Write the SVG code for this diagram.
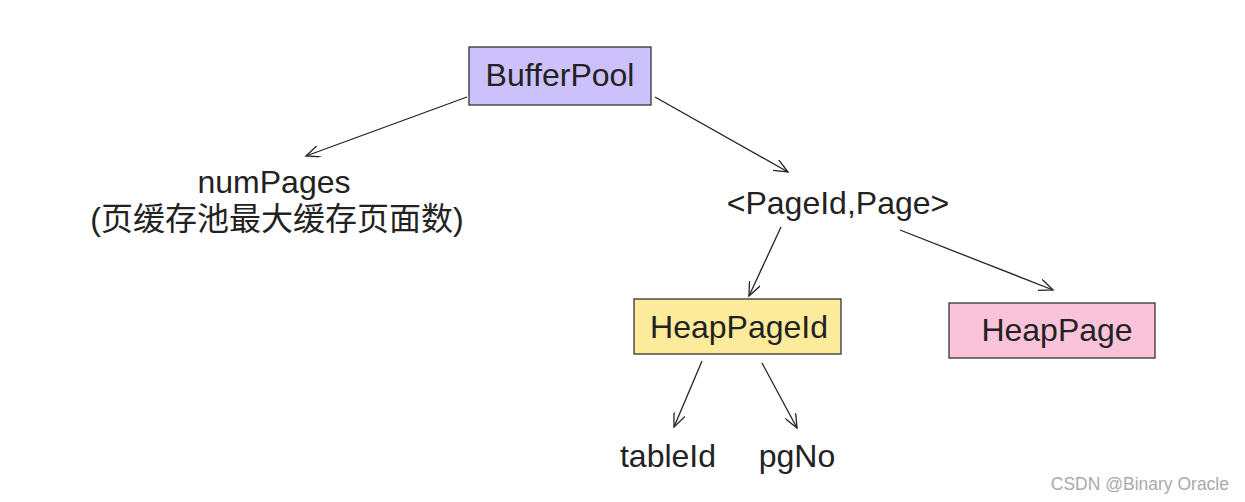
<svg xmlns="http://www.w3.org/2000/svg" width="1245" height="502" viewBox="0 0 1245 502">
<style>
.t{font-family:"Liberation Sans","Noto Sans CJK SC",Arial,sans-serif;font-size:32px;fill:#222;text-anchor:middle}
.box{stroke:#333;stroke-width:1.3}
.c line{stroke:#222;stroke-width:1.3;marker-end:url(#ah)}
</style>
<defs>
<marker id="ah" markerWidth="16" markerHeight="12" refX="14" refY="6" orient="auto" markerUnits="userSpaceOnUse">
<path d="M0,0 L14,6 L0,12" fill="none" stroke="#222" stroke-width="1.3"/>
</marker>
</defs>
<rect width="1245" height="502" fill="#fff"/>
<g id="bufferpool"><rect class="box" x="469" y="47" width="182" height="58" fill="#cdc1fb"/><text class="t" x="560" y="86">BufferPool</text></g>
<g id="numpages"><text class="t" x="274" y="193">numPages</text><text class="t" x="277" y="230">(页缓存池最大缓存页面数)</text></g>
<g id="pagemap"><text class="t" x="838" y="214">&lt;PageId,Page&gt;</text></g>
<g id="heappageid"><rect class="box" x="634" y="299" width="207" height="55" fill="#fdeb9c"/><text class="t" x="739" y="338">HeapPageId</text></g>
<g id="heappage"><rect class="box" x="949" y="303" width="206" height="55" fill="#fbc3d9"/><text class="t" x="1057" y="341">HeapPage</text></g>
<g id="tableid"><text class="t" x="668" y="467">tableId</text></g>
<g id="pgno"><text class="t" x="797" y="467">pgNo</text></g>
<g class="c" id="connectors">
<line x1="467" y1="97" x2="306" y2="156"/>
<line x1="655" y1="97" x2="788" y2="172"/>
<line x1="781" y1="227" x2="749" y2="296"/>
<line x1="900" y1="230" x2="1053" y2="290"/>
<line x1="702" y1="361" x2="674" y2="427"/>
<line x1="762" y1="363" x2="797" y2="428"/>
</g>
<text x="1229" y="490" style="font-family:'Liberation Sans',Arial,sans-serif;font-size:17.5px;fill:#aaa;text-anchor:end">CSDN @Binary Oracle</text>
</svg>
